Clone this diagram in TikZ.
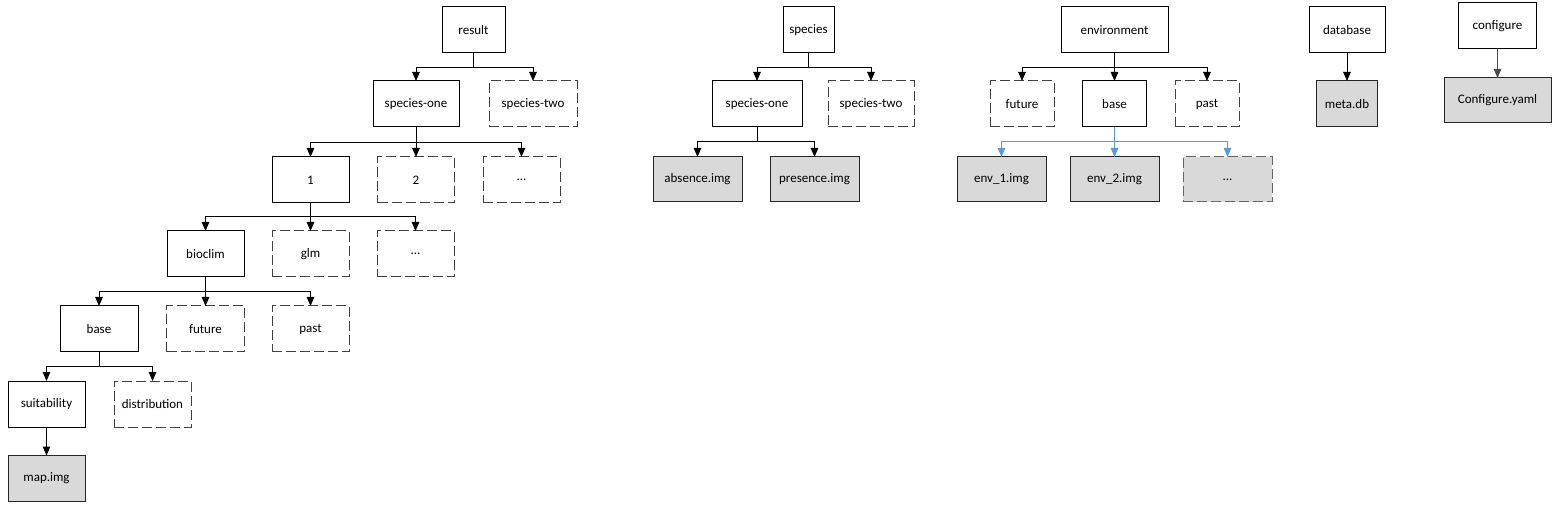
\documentclass[tikz,border=0pt]{standalone}
\usepackage{fontspec}
\setmainfont{Carlito}
\usetikzlibrary{arrows.meta}
\definecolor{boxfill}{HTML}{D9D9D9}
\definecolor{dashgray}{HTML}{404040}
\definecolor{linkblue}{HTML}{5B9BD5}
\begin{document}
\begin{tikzpicture}[x=1pt,y=-1pt,
  every node/.style={font=\fontsize{13}{15}\selectfont, inner sep=0pt, outer sep=0pt, minimum height=46},
  solidbox/.style={draw=black, line width=1pt, fill=white},
  dashbox/.style={draw=dashgray, line width=1pt, dash pattern=on 10pt off 4pt, fill=white},
  filebox/.style={draw=black!85, line width=1pt, fill=boxfill},
  dashfile/.style={draw=dashgray!80, line width=1pt, dash pattern=on 10pt off 4pt, fill=boxfill},
  link/.style={draw=black, line width=1pt},
  arr/.style={link, -{Triangle[length=9pt,width=7.5pt]}},
  bluelink/.style={draw=linkblue, line width=1pt},
  bluearr/.style={bluelink, -{Triangle[length=9pt,width=7.5pt]}},
]
\useasboundingbox (0,0) rectangle (1560,510);

% ---------- result tree ----------
\node[solidbox, minimum width=63] (result) at (473.5,30) {result};
\node[solidbox, minimum width=86] (rsone) at (416,104) {species-one};
\node[dashbox, minimum width=88] (rstwo) at (533,104) {species-two};
\node[solidbox, minimum width=77] (n1) at (310.5,180) {1};
\node[dashbox, minimum width=77] (n2) at (416,180) {2};
\node[dashbox, minimum width=77] (n3) at (521.5,180) {...};
\node[solidbox, minimum width=77] (bioclim) at (205.5,254) {bioclim};
\node[dashbox, minimum width=77] (glm) at (310.5,254) {glm};
\node[dashbox, minimum width=77] (mdots) at (415.5,254) {...};
\node[solidbox, minimum width=78] (rbase) at (99,329) {base};
\node[dashbox, minimum width=78] (rfuture) at (205.5,329) {future};
\node[dashbox, minimum width=77] (rpast) at (310.5,329) {past};
\node[solidbox, minimum width=77] (suit) at (46.5,404) {suitability};
\node[dashbox, minimum width=77] (distr) at (152.5,404) {distribution};
\node[filebox, minimum width=77] (map) at (46.5,478.5) {map.img};

\coordinate (b1) at (473.5,68);
\draw[link] (result.south) -- (b1);
\draw[arr] (b1) -| (rsone.north);
\draw[arr] (b1) -| (rstwo.north);

\coordinate (b2) at (416,143);
\draw[link] (rsone.south) -- (b2);
\draw[arr] (b2) -| (n1.north);
\draw[arr] (b2) -| (n2.north);
\draw[arr] (b2) -| (n3.north);

\coordinate (b3) at (310.5,217);
\draw[link] (n1.south) -- (b3);
\draw[arr] (b3) -| (bioclim.north);
\draw[arr] (b3) -| (glm.north);
\draw[arr] (b3) -| (mdots.north);

\coordinate (b4) at (205.5,292);
\draw[link] (bioclim.south) -- (b4);
\draw[arr] (b4) -| (rbase.north);
\draw[arr] (b4) -| (rfuture.north);
\draw[arr] (b4) -| (rpast.north);

\coordinate (b5) at (99,366);
\draw[link] (rbase.south) -- (b5);
\draw[arr] (b5) -| (suit.north);
\draw[arr] (b5) -| (distr.north);

\draw[arr] (suit.south) -- (map.north);

% ---------- species tree ----------
\node[solidbox, minimum width=51] (species) at (808.5,30) {species};
\node[solidbox, minimum width=90] (ssone) at (757,104) {species-one};
\node[dashbox, minimum width=86] (sstwo) at (871,104) {species-two};
\node[filebox, minimum width=89, minimum height=45] (absence) at (697.5,179.5) {absence.img};
\node[filebox, minimum width=89, minimum height=45] (presence) at (814.5,179.5) {presence.img};

\coordinate (s1) at (808.5,68);
\draw[link] (species.south) -- (s1);
\draw[arr] (s1) -| (ssone.north);
\draw[arr] (s1) -| (sstwo.north);
\coordinate (s2) at (757,142);
\draw[link] (ssone.south) -- (s2);
\draw[arr] (s2) -| (absence.north);
\draw[arr] (s2) -| (presence.north);

% ---------- environment tree ----------
\node[solidbox, minimum width=107] (env) at (1114.5,30) {environment};
\node[dashbox, minimum width=64] (efuture) at (1022,104) {future};
\node[solidbox, minimum width=64] (ebase) at (1114.5,104) {base};
\node[dashbox, minimum width=64] (epast) at (1207,104) {past};
\node[filebox, minimum width=89, minimum height=45] (env1) at (1001.5,179.5) {env\_1.img};
\node[filebox, minimum width=89, minimum height=45] (env2) at (1114.5,179.5) {env\_2.img};
\node[dashfile, minimum width=89, minimum height=45] (env3) at (1227.5,179.5) {...};

\coordinate (e1) at (1114.5,68);
\draw[link] (env.south) -- (e1);
\draw[arr] (e1) -| (efuture.north);
\draw[arr] (e1) -| (ebase.north);
\draw[arr] (e1) -| (epast.north);
\coordinate (e2) at (1114.5,142);
\draw[bluelink] (ebase.south) -- (e2);
\draw[bluearr] (e2) -| (env1.north);
\draw[bluearr] (e2) -| (env2.north);
\draw[bluearr] (e2) -| (env3.north);

% ---------- database ----------
\node[solidbox, minimum width=76] (db) at (1347,30) {database};
\node[filebox, minimum width=61] (meta) at (1347,104) {meta.db};
\draw[arr] (db.south) -- (meta.north);

% ---------- configure ----------
\node[solidbox, minimum width=78] (conf) at (1497.5,26) {configure};
\node[filebox, minimum width=107, minimum height=45] (yaml) at (1497.5,100.5) {Configure.yaml};
\draw[arr, draw=black!70, fill=black!70] (conf.south) -- (yaml.north);
\end{tikzpicture}
\end{document}
